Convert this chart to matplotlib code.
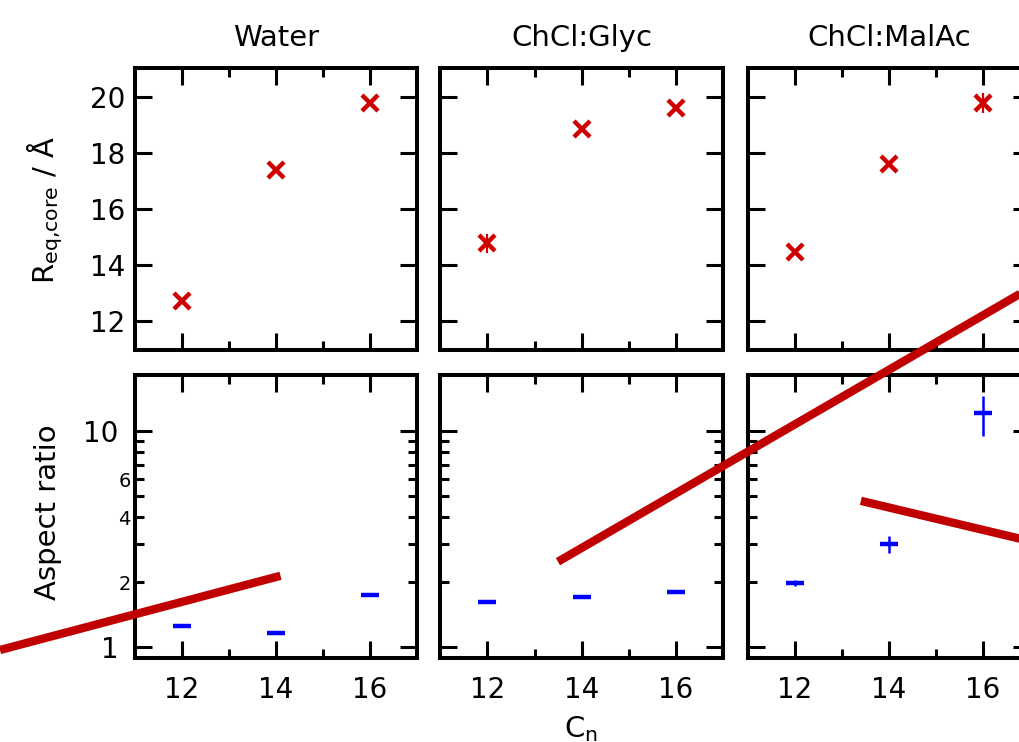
import numpy as np
import matplotlib.pyplot as plt
from matplotlib.lines import Line2D
from matplotlib.ticker import FixedLocator, FixedFormatter, NullFormatter

# data
solvents = ['Water', 'ChCl:Glyc', 'ChCl:MalAc']
chain_n = [12, 14, 16]

# equatorial core radius / Angstrom
r_water = [12.72, 17.38, 19.80]
r_glyc = [14.77, 18.85, 19.60]
r_malac = [14.45, 17.60, 19.80]
r_err_water = [0.0, 0.0, 0.0]
r_err_glyc = [0.35, 0.0, 0.0]
r_err_malac = [0.0, 0.0, 0.35]

# aspect ratio (log axis), asymmetric errors (lower, upper)
ar_water = [1.25, 1.165, 1.75]
ar_glyc = [1.62, 1.70, 1.79]
ar_malac = [1.98, 3.00, 12.2]
ar_lo_malac = [0.06, 0.28, 2.7]
ar_hi_malac = [0.06, 0.26, 2.3]

# red strokes drawn over the figure (figure fractions)
strokes = [
    ((0.000, 0.124), (0.275, 0.224)),
    ((0.547, 0.243), (1.000, 0.604)),
    ((0.844, 0.325), (1.000, 0.274)),
]

RED = '#d00000'
BLUE = '#0000ff'

plt.rcParams['font.family'] = ['DejaVu Sans']

W, H = 1020, 742
fig = plt.figure(figsize=(W / 100, H / 100), dpi=100)


def px_box(x0, y0, x1, y1):
    return [x0 / W, 1 - y1 / H, (x1 - x0) / W, (y1 - y0) / H]


lefts = [135, 440.5, 748]
pw = 282
top_axes = [fig.add_axes(px_box(l, 68, l + pw, 350)) for l in lefts]
bot_axes = [fig.add_axes(px_box(l, 375, l + pw, 658)) for l in lefts]

r_vals = [r_water, r_glyc, r_malac]
r_errs = [r_err_water, r_err_glyc, r_err_malac]
ar_vals = [ar_water, ar_glyc, ar_malac]
ar_errs = [[[0, 0, 0], [0, 0, 0]], [[0, 0, 0], [0, 0, 0]], [ar_lo_malac, ar_hi_malac]]


def style(ax):
    for sp in ax.spines.values():
        sp.set_linewidth(2.9)
    ax.tick_params(which='both', direction='in', top=True, right=True,
                   width=2.2, labelsize=20)
    ax.tick_params(which='major', length=12.5)
    ax.tick_params(which='minor', length=6.5)
    ax.set_xlim(11, 17)
    ax.set_xticks([12, 14, 16])
    ax.xaxis.set_minor_locator(FixedLocator([13, 15]))
    ax.tick_params(axis='x', pad=13)
    ax.tick_params(axis='y', pad=7)


for i, ax in enumerate(top_axes):
    style(ax)
    ax.errorbar(chain_n, r_vals[i], yerr=r_errs[i], fmt='x', color=RED,
                ms=11, mew=3.2, elinewidth=1.6, capsize=0)
    ax.set_ylim(10.95, 21.05)
    ax.set_yticks([12, 14, 16, 18, 20])
    ax.set_xticklabels([])
    if i > 0:
        ax.set_yticklabels([])
    ax.set_title(solvents[i], fontsize=21, pad=16)

for i, ax in enumerate(bot_axes):
    style(ax)
    ax.set_yscale('log')
    ax.errorbar(chain_n, ar_vals[i], yerr=ar_errs[i], fmt='_', color=BLUE,
                ms=13, mew=3.2, elinewidth=1.8, capsize=0)
    ax.set_ylim(0.89, 18.2)
    ax.yaxis.set_major_locator(FixedLocator([1, 10]))
    ax.yaxis.set_minor_locator(FixedLocator([2, 3, 4, 5, 6, 7, 8, 9]))
    if i == 0:
        ax.yaxis.set_major_formatter(FixedFormatter(['1', '10']))
        ax.yaxis.set_minor_formatter(FixedFormatter(['2', '', '4', '', '6', '', '', '']))
        ax.tick_params(axis='y', which='major', pad=12)
        ax.tick_params(axis='y', which='minor', labelsize=14, pad=3)
    else:
        ax.yaxis.set_major_formatter(NullFormatter())
        ax.yaxis.set_minor_formatter(NullFormatter())

fig.text(45 / W, 1 - 210 / H, r'R$_\mathregular{eq{,}core}$ / Å', rotation=90,
         ha='center', va='center', fontsize=21)
fig.text(48 / W, 1 - 512 / H, 'Aspect ratio', rotation=90,
         ha='center', va='center', fontsize=21)
fig.text(581 / W, 1 - 737 / H, r'C$_\mathregular{n}$', ha='center',
         va='baseline', fontsize=21)

for (x0, y0), (x1, y1) in strokes:
    fig.add_artist(Line2D([x0, x1], [y0, y1], transform=fig.transFigure,
                          color='#c00000', lw=6, solid_capstyle='butt', zorder=10))

fig.savefig('out.png', dpi=100)
